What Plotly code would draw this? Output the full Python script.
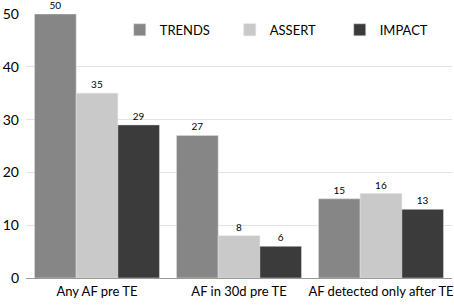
import plotly.graph_objects as go

categories = ["Any AF pre TE", "AF in 30d pre TE", "AF detected only after TE"]
trends = [50, 27, 15]
assert_vals = [35, 8, 16]
impact = [29, 6, 13]
series_names = ["TRENDS", "ASSERT", "IMPACT"]
colors = ["#868686", "#c9c9c9", "#3b3b3b"]

fig = go.Figure()
for name, vals, c in zip(series_names, [trends, assert_vals, impact], colors):
    fig.add_trace(go.Bar(
        x=categories, y=vals, name=name, marker_color=c,
        marker_line=dict(color="#e0e0e0", width=0.5),
        text=[str(v) for v in vals], textposition="outside",
        textfont=dict(size=10, color="black", family="Lato"), cliponaxis=False,
    ))

fig.update_layout(
    width=454, height=305,
    margin=dict(l=26, r=2, t=14, b=27),
    paper_bgcolor="white", plot_bgcolor="white",
    font=dict(family="Lato", size=13, color="black"),
    barmode="group", bargap=0.12, bargroupgap=0,
    legend=dict(orientation="h", x=0.22, y=0.94, xanchor="left", yanchor="middle",
                font=dict(size=13), entrywidth=65, entrywidthmode="pixels",
                traceorder="normal", bgcolor="rgba(0,0,0,0)"),
    showlegend=True,
)
fig.update_yaxes(range=[0, 50], dtick=10, showgrid=True, gridcolor="#e3e3e3",
                 zeroline=True, zerolinecolor="#9a9a9a", zerolinewidth=1,
                 tickfont=dict(size=14), ticks="", ticklabelstandoff=6, automargin=False)
fig.update_xaxes(showline=False, tickfont=dict(size=13), ticks="", automargin=False,
                 ticklabelstandoff=4)

fig.write_html("out.html", config={"displayModeBar": False},
               post_script="document.body.style.margin='0';")
